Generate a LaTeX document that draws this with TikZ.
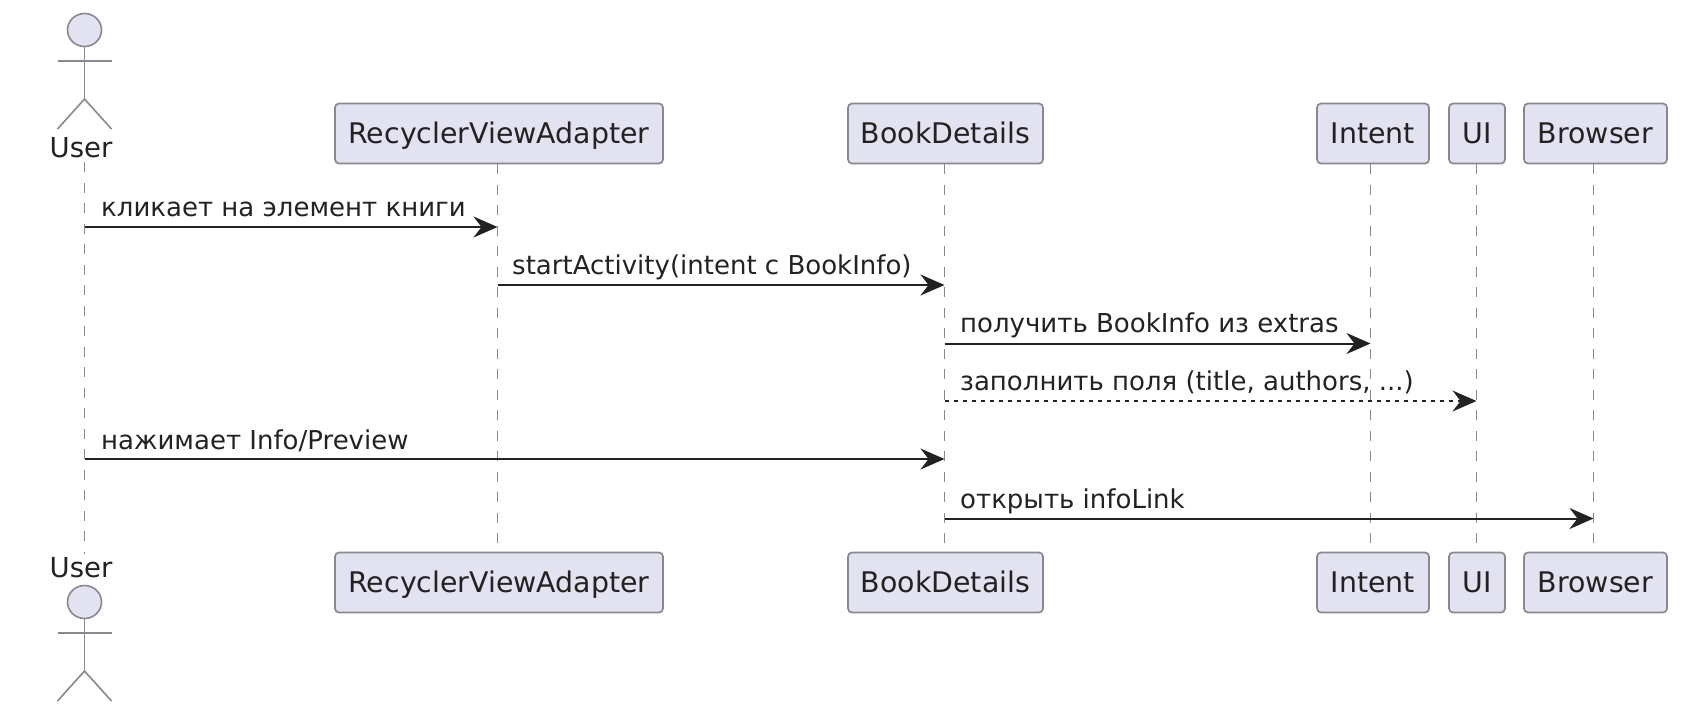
\documentclass[tikz,border=0pt]{standalone}
\usepackage{fontspec}
\setmainfont{DejaVu Sans}
\usetikzlibrary{arrows.meta}
\definecolor{boxfill}{HTML}{E2E2F0}
\definecolor{boxline}{HTML}{88888F}
\definecolor{inkline}{HTML}{222222}
\tikzset{
	x=1pt, y=1pt,
	every node/.style={font=\fontsize{26}{31}\selectfont, text=inkline, inner sep=0pt},
	partbox/.style={draw=boxline, fill=boxfill, line width=1.7pt, rounded corners=4pt, minimum height=60pt, font=\fontsize{28.4}{34}\selectfont, text height=22pt, text depth=3pt},
	actorname/.style={font=\fontsize{27.5}{33}\selectfont},
	lifeline/.style={draw=boxline, line width=1.6pt, dash pattern=on 10pt off 10.5pt},
	actorline/.style={draw=boxline, line width=1.6pt},
	callarrow/.style={draw=inkline, line width=2pt, -{Stealth[length=24pt, width=21pt, inset=8pt]}},
	calllabel/.style={anchor=base west}
}
\def\drawactor(#1,#2){
	\draw[actorline, fill=boxfill] (#1, #2-17) ellipse (17 and 16.5);
	\draw[actorline] (#1, #2-33) -- (#1, #2-86);
	\draw[actorline] (#1-27, #2-48) -- (#1+27, #2-48);
	\draw[actorline] (#1-27, #2-116) -- (#1, #2-86) -- (#1+27, #2-116);
}

\begin{document}
\begin{tikzpicture}
		%%%%% START %%%%%
		\useasboundingbox (0, 0) rectangle (1700, -718);
		
		\drawactor(84.5, -13)
		\node[actorname] (userTop) at (81, -148) {User};
		\node[partbox, minimum width=328pt] (adapterTop) at (499, -133.5) {RecyclerViewAdapter};
		\node[partbox, minimum width=195pt] (detailsTop) at (945.5, -133.5) {BookDetails};
		\node[partbox, minimum width=112pt] (intentTop) at (1373, -133.5) {Intent};
		\node[partbox, minimum width=56pt] (uiTop) at (1477, -133.5) {UI};
		\node[partbox, minimum width=143pt] (browserTop) at (1595.5, -133.5) {Browser};
		
		\node[actorname] (userBot) at (81, -568) {User};
		\drawactor(84.5, -585)
		\node[partbox, minimum width=328pt] (adapterBot) at (499, -582.5) {RecyclerViewAdapter};
		\node[partbox, minimum width=195pt] (detailsBot) at (945.5, -582.5) {BookDetails};
		\node[partbox, minimum width=112pt] (intentBot) at (1373, -582.5) {Intent};
		\node[partbox, minimum width=56pt] (uiBot) at (1477, -582.5) {UI};
		\node[partbox, minimum width=143pt] (browserBot) at (1595.5, -582.5) {Browser};
		
		\draw[lifeline] ([xshift=3.5pt, yshift=-4pt]userTop.south) -- ([xshift=3.5pt, yshift=4pt]userBot.north);
		\draw[lifeline] ([xshift=-1.5pt]adapterTop.south) -- ([xshift=-1.5pt]adapterBot.north);
		\draw[lifeline] ([xshift=-1pt]detailsTop.south) -- ([xshift=-1pt]detailsBot.north);
		\draw[lifeline] ([xshift=-2.5pt]intentTop.south) -- ([xshift=-2.5pt]intentBot.north);
		\draw[lifeline] ([xshift=-0.5pt]uiTop.south) -- ([xshift=-0.5pt]uiBot.north);
		\draw[lifeline] ([xshift=-2pt]browserTop.south) -- ([xshift=-2pt]browserBot.north);
		
		\coordinate (callA) at (84.5, -227);
		\coordinate (callAend) at (497.5, -227);
		\coordinate (callB) at (497.5, -285);
		\coordinate (callBend) at (944.5, -285);
		\coordinate (callC) at (944.5, -343.5);
		\coordinate (callCend) at (1370.5, -343.5);
		\coordinate (callD) at (944.5, -401);
		\coordinate (callDend) at (1476.5, -401);
		\coordinate (callE) at (84.5, -459);
		\coordinate (callEend) at (944.5, -459);
		\coordinate (callF) at (944.5, -518.5);
		\coordinate (callFend) at (1593.5, -518.5);
		
		\draw[callarrow] (callA) -- (callAend);
		\draw[callarrow] (callB) -- (callBend);
		\draw[callarrow] (callC) -- (callCend);
		\draw[callarrow, line width=1.5pt, dash pattern=on 4.5pt off 4.5pt] (callD) -- (callDend);
		\draw[callarrow] (callE) -- (callEend);
		\draw[callarrow] (callF) -- (callFend);
		
		\node[calllabel] (labelA) at (101, -216) {кликает на элемент книги};
		\node[calllabel] (labelB) at (512, -274) {startActivity(intent с BookInfo)};
		\node[calllabel] (labelC) at (960, -332) {получить BookInfo из extras};
		\node[calllabel] (labelD) at (960, -390) {заполнить поля (title, authors, ...)};
		\node[calllabel] (labelE) at (101, -449) {нажимает Info/Preview};
		\node[calllabel] (labelF) at (960, -508) {открыть infoLink};
		
		%%%%% END %%%%%
	\end{tikzpicture}
\end{document}
